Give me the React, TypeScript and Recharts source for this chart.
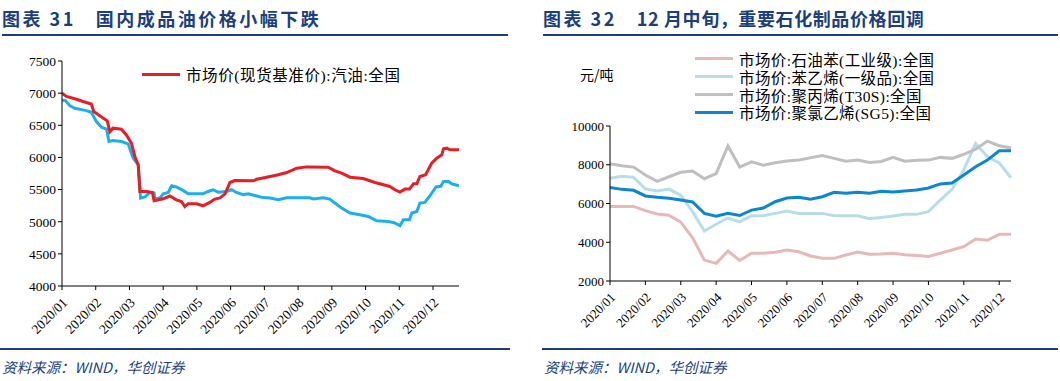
import React from "react";
import { LineChart, Line, XAxis, YAxis } from "recharts";

// x = month offset from 2020/01 (0 = Jan 1)
const GASOLINE: [number, number][] = [
  [0, 7000], [0.13, 6950], [0.43, 6905], [0.62, 6870], [0.87, 6830], [0.94, 6715],
  [1.12, 6650], [1.34, 6570], [1.42, 6400], [1.51, 6455], [1.76, 6440], [1.91, 6350],
  [2.06, 6220], [2.16, 6015], [2.26, 5885], [2.31, 5470], [2.52, 5470], [2.68, 5455],
  [2.73, 5325], [3.0, 5357], [3.2, 5400], [3.39, 5340], [3.54, 5315], [3.64, 5237],
  [3.74, 5280], [3.99, 5280], [4.18, 5248], [4.38, 5300], [4.53, 5352], [4.68, 5370],
  [4.83, 5430], [4.98, 5610], [5.12, 5641], [5.67, 5636], [5.77, 5660], [5.96, 5680],
  [6.17, 5704], [6.41, 5730], [6.66, 5765], [6.96, 5833], [7.25, 5853], [7.89, 5848],
  [8.09, 5790], [8.29, 5755], [8.54, 5693], [8.93, 5672], [9.28, 5610], [9.72, 5548],
  [9.87, 5497], [10.02, 5460], [10.17, 5507], [10.3, 5507], [10.42, 5590], [10.52, 5590],
  [10.61, 5704], [10.78, 5730], [10.96, 5911], [11.11, 5989], [11.26, 6040], [11.31, 6133],
  [11.41, 6144], [11.5, 6120], [11.77, 6118],
];

const DIESEL: [number, number][] = [
  [0, 6890], [0.1, 6885], [0.23, 6806], [0.38, 6765], [0.72, 6728], [0.87, 6703],
  [1.02, 6557], [1.17, 6470], [1.32, 6440], [1.39, 6247], [1.51, 6262], [1.76, 6247],
  [1.96, 6211], [2.11, 5989], [2.26, 5885], [2.33, 5368], [2.46, 5385], [2.6, 5455],
  [2.73, 5445], [2.75, 5352], [2.9, 5368], [3.0, 5435], [3.15, 5455], [3.25, 5560],
  [3.39, 5540], [3.59, 5487], [3.74, 5435], [4.18, 5435], [4.33, 5470], [4.48, 5497],
  [4.63, 5460], [4.88, 5470], [5.03, 5497], [5.17, 5455], [5.37, 5420], [5.52, 5435],
  [5.77, 5400], [5.96, 5375], [6.17, 5368], [6.41, 5342], [6.66, 5373], [7.35, 5373],
  [7.45, 5355], [7.74, 5373], [7.94, 5352], [8.09, 5290], [8.29, 5212], [8.54, 5135],
  [8.83, 5108], [9.08, 5082], [9.33, 5015], [9.67, 5005], [9.87, 4980], [10.02, 4938],
  [10.12, 5030], [10.3, 5030], [10.37, 5135], [10.52, 5160], [10.61, 5290], [10.76, 5300],
  [10.91, 5404], [11.09, 5540], [11.23, 5550], [11.31, 5625], [11.46, 5625], [11.55, 5590],
  [11.77, 5560],
];

const MONTH_LABELS = [
  "2020/01", "2020/02", "2020/03", "2020/04", "2020/05", "2020/06",
  "2020/07", "2020/08", "2020/09", "2020/10", "2020/11", "2020/12",
];
const MONTH_TICKS = MONTH_LABELS.map((_, i) => i);
const OIL_TICKS = [4000, 4500, 5000, 5500, 6000, 6500, 7000, 7500];
const CHEM_TICKS = [2000, 4000, 6000, 8000, 10000];

// ten-day (上/中/下旬) readings, 2020/01 上旬 .. 2020/12 中旬
const BENZENE = [
  5850, 5850, 5850, 5630, 5460, 5390, 5040, 4230, 3080, 2910, 3550, 3060,
  3430, 3430, 3480, 3600, 3510, 3290, 3170, 3170, 3340, 3500, 3380, 3390,
  3430, 3360, 3310, 3270, 3430, 3600, 3770, 4170, 4100, 4410, 4410,
];
const STYRENE = [
  7300, 7400, 7350, 6750, 6640, 6750, 6420, 5580, 4580, 4930, 5250, 5050,
  5370, 5370, 5490, 5610, 5490, 5490, 5490, 5370, 5370, 5370, 5220, 5280,
  5350, 5440, 5440, 5580, 6180, 6730, 7730, 9100, 8410, 8100, 7330,
];
const PP = [
  8050, 7950, 7880, 7470, 7140, 7380, 7610, 7680, 7280, 7540, 8970, 7880,
  8150, 7980, 8100, 8190, 8240, 8360, 8470, 8330, 8180, 8240, 8120, 8170,
  8380, 8180, 8230, 8240, 8380, 8330, 8540, 8800, 9220, 8980, 8860,
];
const PVC = [
  6830, 6730, 6680, 6390, 6320, 6270, 6180, 6080, 5490, 5340, 5490, 5380,
  5660, 5770, 6090, 6280, 6320, 6220, 6350, 6580, 6530, 6580, 6530, 6630,
  6590, 6640, 6700, 6800, 7010, 7060, 7470, 7900, 8240, 8720, 8720,
];

const CHEM_SERIES = [
  { key: "benzene", label: "市场价:石油苯(工业级):全国", color: "#e6b8b7", values: BENZENE },
  { key: "styrene", label: "市场价:苯乙烯(一级品):全国", color: "#b7dde8", values: STYRENE },
  { key: "pp", label: "市场价:聚丙烯(T30S):全国", color: "#bfbfbf", values: PP },
  { key: "pvc", label: "市场价:聚氯乙烯(SG5):全国", color: "#0b86cf", values: PVC },
];

const chemRows = BENZENE.map((_, i) => {
  const row: Record<string, number> = { m: i / 3 };
  CHEM_SERIES.forEach((s) => (row[s.key] = s.values[i]));
  return row;
});
const gasRows = GASOLINE.map(([m, v]) => ({ m, v }));
const dieselRows = DIESEL.map(([m, v]) => ({ m, v }));

const SERIF = "'Liberation Serif', 'Times New Roman', 'Noto Sans CJK SC', serif";
const CJK = "'Noto Sans CJK SC', sans-serif";
const NAVY = "#1b3f7d";

function MonthTick({ x, y, payload, fontSize }: any) {
  return (
    <g transform={`translate(${x + 3},${y + 8})`}>
      <text
        transform="rotate(-45)"
        textAnchor="end"
        dy="0.35em"
        fontFamily={SERIF}
        fontSize={fontSize}
        fill="#000"
      >
        {MONTH_LABELS[payload.value]}
      </text>
    </g>
  );
}

function Title({
  no,
  text,
  left,
  width,
  spacing,
}: {
  no: string;
  text: string;
  left: number;
  width: number;
  spacing: number;
}) {
  return (
    <>
      <div
        style={{
          position: "absolute",
          left,
          top: 5,
          fontFamily: CJK,
          fontWeight: 700,
          fontSize: 18,
          color: NAVY,
          whiteSpace: "nowrap",
          letterSpacing: 2.5,
        }}
      >
        <span>图表 {no}</span>
        <span style={{ marginLeft: 20, letterSpacing: spacing }}>{text}</span>
      </div>
      <div style={{ position: "absolute", left, top: 34, width, height: 2, background: NAVY }} />
    </>
  );
}

function Footer({ left, width }: { left: number; width: number }) {
  return (
    <>
      <div style={{ position: "absolute", left, top: 348, width, height: 2, background: NAVY }} />
      <div
        style={{
          position: "absolute",
          left: left + 2,
          top: 356,
          fontFamily: CJK,
          fontStyle: "italic",
          fontSize: 14.5,
          color: NAVY,
          whiteSpace: "nowrap",
        }}
      >
        资料来源：WIND，华创证券
      </div>
    </>
  );
}

const axisLine = { stroke: "#000", strokeWidth: 1 };

export default function App() {
  return (
    <div
      style={{
        position: "fixed",
        left: 0,
        top: 0,
        width: 1060,
        height: 381,
        background: "#fff",
        overflow: "hidden",
      }}
    >
      <Title no="31" text="国内成品油价格小幅下跌" left={2} width={506} spacing={2.5} />
      <Title no="32" text="12 月中旬，重要石化制品价格回调" left={543} width={515} spacing={0.6} />

      {/* left: refined oil */}
      <div style={{ position: "absolute", left: 0, top: 0 }}>
        <LineChart width={470} height={381} margin={{ top: 61, right: 11, bottom: 35, left: 0 }}>
          <XAxis
            dataKey="m"
            type="number"
            domain={[0, 11.77]}
            ticks={MONTH_TICKS}
            allowDataOverflow
            height={60}
            axisLine={axisLine}
            tickLine={axisLine}
            tickSize={4}
            interval={0}
            tick={<MonthTick fontSize={13.5} />}
          />
          <YAxis
            type="number"
            domain={[4000, 7500]}
            ticks={OIL_TICKS}
            width={62}
            axisLine={axisLine}
            tickLine={axisLine}
            tickSize={4}
            tick={{ fontFamily: SERIF, fontSize: 13.5, fill: "#000" }}
          />
          <Line data={dieselRows} dataKey="v" stroke="#1ab0ea" strokeWidth={3} dot={false} isAnimationActive={false} />
          <Line data={gasRows} dataKey="v" stroke="#e61e25" strokeWidth={3} dot={false} isAnimationActive={false} />
        </LineChart>
      </div>
      <div
        style={{
          position: "absolute",
          left: 142,
          top: 63,
          display: "flex",
          alignItems: "center",
          whiteSpace: "nowrap",
        }}
      >
        <span style={{ display: "inline-block", width: 38, height: 3, background: "#e61e25", marginRight: 6 }} />
        <span style={{ fontFamily: SERIF, fontSize: 15.5, color: "#000", letterSpacing: 0.6 }}>
          市场价(现货基准价):汽油:全国
        </span>
      </div>

      {/* right: petrochemicals */}
      <div style={{ position: "absolute", left: 530, top: 0 }}>
        <LineChart width={530} height={381} data={chemRows} margin={{ top: 126, right: 49, bottom: 40, left: 0 }}>
          <XAxis
            dataKey="m"
            type="number"
            domain={[0, 34 / 3]}
            ticks={MONTH_TICKS}
            height={60}
            axisLine={axisLine}
            tickLine={axisLine}
            tickSize={4}
            interval={0}
            tick={<MonthTick fontSize={13} />}
          />
          <YAxis
            type="number"
            domain={[2000, 10000]}
            ticks={CHEM_TICKS}
            width={80}
            axisLine={axisLine}
            tickLine={axisLine}
            tickSize={4}
            tick={{ fontFamily: SERIF, fontSize: 13, fill: "#000" }}
          />
          {CHEM_SERIES.map((s) => (
            <Line
              key={s.key}
              dataKey={s.key}
              stroke={s.color}
              strokeWidth={3}
              dot={false}
              isAnimationActive={false}
            />
          ))}
        </LineChart>
      </div>
      <div style={{ position: "absolute", left: 580, top: 64, fontFamily: CJK, fontSize: 14, color: "#000" }}>
        元/吨
      </div>
      <div style={{ position: "absolute", left: 695, top: 50 }}>
        {CHEM_SERIES.map((s) => (
          <div key={s.key} style={{ display: "flex", alignItems: "center", height: 17.8, whiteSpace: "nowrap" }}>
            <span style={{ display: "inline-block", width: 38, height: 3, background: s.color, marginRight: 6 }} />
            <span style={{ fontFamily: SERIF, fontSize: 15.5, color: "#000", letterSpacing: 0.4 }}>{s.label}</span>
          </div>
        ))}
      </div>

      <Footer left={0} width={510} />
      <Footer left={542} width={516} />
    </div>
  );
}
